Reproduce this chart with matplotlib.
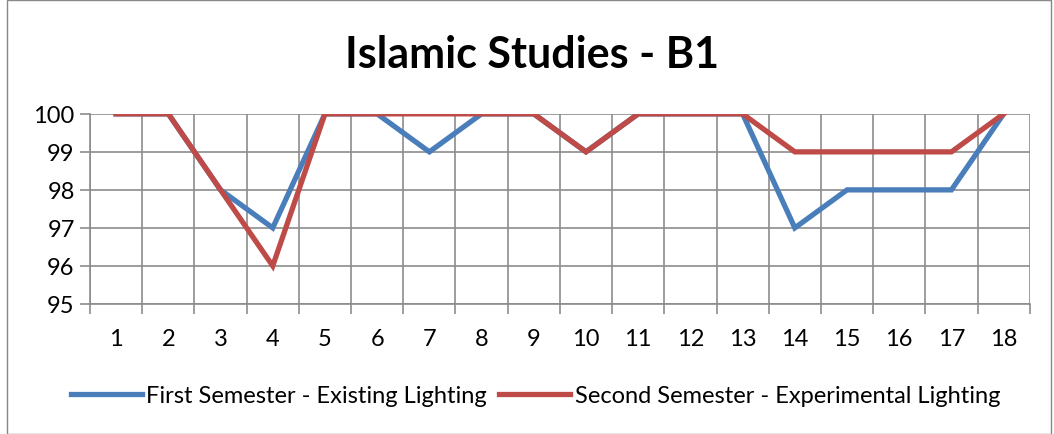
import matplotlib
matplotlib.use("Agg")
import matplotlib.pyplot as plt
from matplotlib.patches import Rectangle
import numpy as np

plt.rcParams['font.family'] = ['Lato', 'DejaVu Sans']

categories = [str(i) for i in range(1, 19)]
first_sem = [100, 100, 98, 97, 100, 100, 99, 100, 100, 99, 100, 100, 100, 97, 98, 98, 98, 100]
second_sem = [100, 100, 98, 96, 100, 100, 100, 100, 100, 99, 100, 100, 100, 99, 99, 99, 99, 100]
labels = ["First Semester - Existing Lighting", "Second Semester - Experimental Lighting"]
blue = "#4a7ebb"
red = "#be4b48"

fig = plt.figure(figsize=(10.54, 4.35), dpi=100)
fig.patches.append(Rectangle((0.007, 0.0), 0.99, 0.998, transform=fig.transFigure,
                             fill=False, edgecolor="#888888", linewidth=1))
ax = fig.add_axes([0.0854, 0.299, 0.8916, 0.437])

x = np.arange(len(categories))
ax.plot(x, first_sem, color=blue, linewidth=3.8, label=labels[0], solid_joinstyle='miter', zorder=3)
ax.plot(x, second_sem, color=red, linewidth=3.8, label=labels[1], solid_joinstyle='miter', zorder=4)

ax.set_xlim(-0.5, len(categories) - 0.5)
ax.set_ylim(95, 100)
ax.set_yticks(range(95, 101))
ax.set_xticks(x)
ax.set_xticklabels(categories)
ax.set_xticks(np.arange(-0.5, len(categories)), minor=True)
ax.grid(True, which='minor', axis='x', color='#8c8c8c', linewidth=1.2)
ax.grid(True, which='major', axis='y', color='#8c8c8c', linewidth=1.2)
ax.tick_params(axis='x', which='major', length=0, pad=17, labelsize=17)
ax.tick_params(axis='x', which='minor', length=7, color='#8c8c8c', width=1.2)
ax.tick_params(axis='y', length=7, color='#8c8c8c', width=1.2, labelsize=17, pad=4)
for s in ['top', 'right']:
    ax.spines[s].set_visible(False)
ax.spines['left'].set_color('#8c8c8c')
ax.spines['bottom'].set_color('#8c8c8c')
ax.spines['left'].set_linewidth(1.2)
ax.spines['bottom'].set_linewidth(1.2)
ax.set_axisbelow(True)

fig.text(0.505, 0.874, "Islamic Studies - B1", ha='center', va='center',
         fontsize=31, fontweight='bold')

fig.legend(loc='center', bbox_to_anchor=(0.508, 0.088), ncol=2, frameon=False,
           fontsize=17, handlelength=3.0, handletextpad=0.2, columnspacing=0.5)

fig.savefig("out.png", dpi=100)
